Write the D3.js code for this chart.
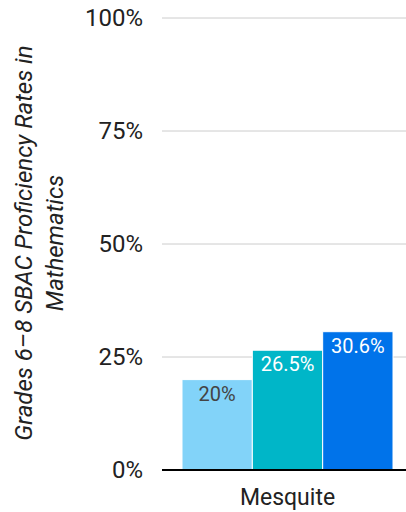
<!DOCTYPE html>
<html><head><meta charset="utf-8">
<script src="https://cdn.jsdelivr.net/npm/d3@7"></script>
<style>body{margin:0;background:#fff}svg{display:block}text{font-family:Roboto,"Noto Sans",sans-serif}</style>
</head><body>
<svg id="c" width="406" height="512"></svg>
<script>
const categories = ["Mesquite"];
const seriesNames = ["A", "B", "C"];
const seriesValues = [20, 26.5, 30.6];
const seriesColors = ["#82D3F9", "#00B6C8", "#0073EA"];
const labelColors = ["#444444", "#ffffff", "#ffffff"];
const yTicks = [0, 25, 50, 75, 100];
const yTickLabels = ["0%", "25%", "50%", "75%", "100%"];
const yTitle = ["Grades 6\u20138 SBAC Proficiency Rates in", "Mathematics"];

const svg = d3.select("#c");
const gridLeft = 162, gridRight = 406;
const y = d3.scaleLinear().domain([0, 100]).range([470, 18]);
const x0 = d3.scaleBand().domain(categories).range([182, 393]).padding(0);
const x1 = d3.scaleBand().domain(seriesNames).range([0, x0.bandwidth()]).padding(0);

// gridlines
svg.append("g").selectAll("line").data(yTicks.filter(t => t > 0)).join("line")
  .attr("x1", gridLeft).attr("x2", gridRight)
  .attr("y1", d => y(d)).attr("y2", d => y(d))
  .attr("stroke", "#cccccc").attr("stroke-width", 1);

// tick labels
svg.append("g").selectAll("text").data(yTicks).join("text")
  .attr("x", 143).attr("y", d => y(d)).attr("dy", "0.35em")
  .attr("text-anchor", "end").attr("font-size", 24).attr("fill", "#222")
  .text((d, i) => yTickLabels[i]);

// bars
const g = svg.append("g").selectAll("g").data(categories).join("g")
  .attr("transform", d => `translate(${x0(d)},0)`);
g.selectAll("rect").data(seriesValues).join("rect")
  .attr("x", (d, i) => x1(seriesNames[i]))
  .attr("width", x1.bandwidth())
  .attr("y", d => y(d)).attr("height", d => y(0) - y(d))
  .attr("fill", (d, i) => seriesColors[i])
  .attr("stroke", "#fff").attr("stroke-width", 1);
g.selectAll("text").data(seriesValues).join("text")
  .attr("x", (d, i) => x1(seriesNames[i]) + x1.bandwidth() / 2)
  .attr("y", d => y(d) + 21)
  .attr("text-anchor", "middle").attr("font-size", 20)
  .attr("fill", (d, i) => labelColors[i])
  .text(d => d + "%");

// baseline
svg.append("line").attr("x1", gridLeft).attr("x2", gridRight)
  .attr("y1", y(0)).attr("y2", y(0)).attr("stroke", "#000").attr("stroke-width", 2);

// category label
svg.append("g").selectAll("text").data(categories).join("text")
  .attr("x", d => x0(d) + x0.bandwidth() / 2).attr("y", 505)
  .attr("text-anchor", "middle").attr("font-size", 23).attr("fill", "#222")
  .text(d => d);

// y title
const t = svg.append("text").attr("transform", "translate(0,243) rotate(-90)")
  .attr("text-anchor", "middle").attr("font-size", 24).attr("font-style", "italic").attr("fill", "#222");
t.selectAll("tspan").data(yTitle).join("tspan")
  .attr("x", 0).attr("y", (d, i) => 32 + i * 31).text(d => d);
</script>
</body></html>
